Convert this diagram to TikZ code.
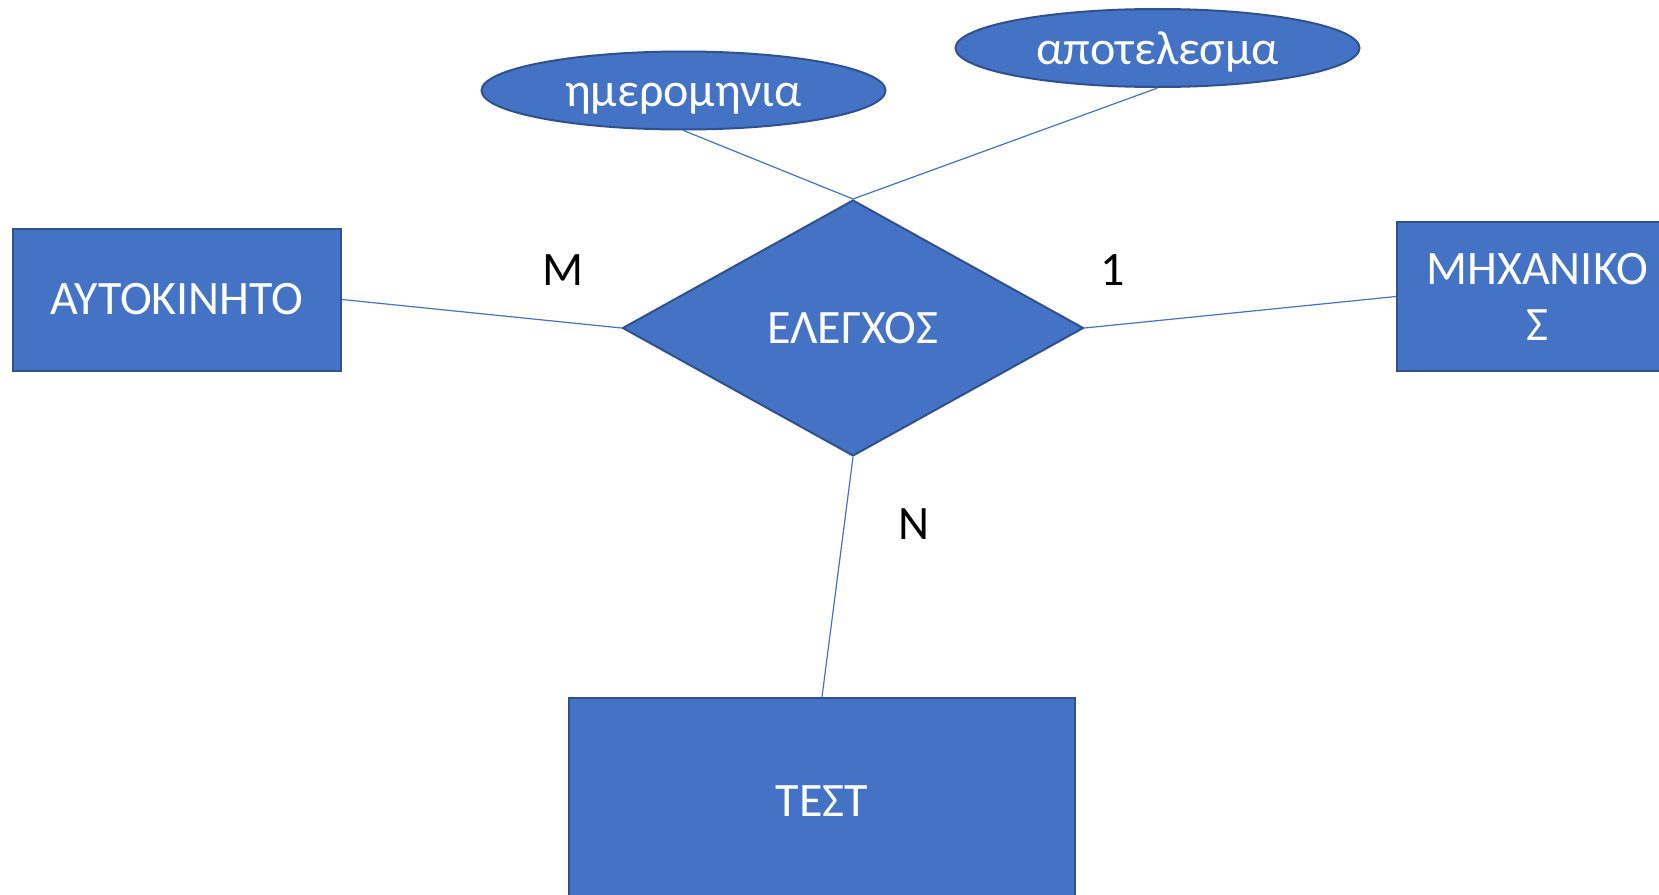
\documentclass[tikz,border=0pt]{standalone}
\usepackage{fontspec}
\setmainfont{Carlito}
\usetikzlibrary{shapes.geometric}
\definecolor{erfill}{HTML}{4472C4}
\definecolor{erborder}{HTML}{2F528F}
\tikzset{
  entity/.style={rectangle, fill=erfill, draw=erborder, line width=2pt,
    text=white, font=\fontsize{48}{56}\selectfont, inner sep=0pt, align=center},
  attrib/.style={ellipse, fill=erfill, draw=erborder, line width=2pt,
    text=white, font=\fontsize{48}{56}\selectfont, inner sep=0pt,
    text height=40pt, text depth=8pt,
    minimum width=404pt, minimum height=78pt},
  relation/.style={diamond, fill=erfill, draw=erborder, line width=2pt,
    text=white, font=\fontsize{48}{56}\selectfont, inner sep=0pt,
    minimum width=461pt, minimum height=256pt},
  link/.style={draw=erfill, line width=1.2pt},
  card/.style={text=black, font=\fontsize{48}{56}\selectfont, inner sep=0pt}
}
\begin{document}
\begin{tikzpicture}[x=1pt, y=-1pt]
  \useasboundingbox[fill=white] (0,0) rectangle (1659,894);

  % entities
  \node[entity, minimum width=328pt, minimum height=142pt] (car) at (177,299.5) {ΑΥΤΟΚΙΝΗΤΟ};
  \node[entity, minimum width=280pt, minimum height=149pt] (mech) at (1537,296.5) {ΜΗΧΑΝΙΚΟ\\Σ};
  \node[entity, minimum width=506pt, minimum height=206pt] (test) at (822,801) {ΤΕΣΤ};

  % relationship
  \node[relation] (check) at (853,328) {ΕΛΕΓΧΟΣ};

  % attributes of the relationship
  \node[attrib] (date) at (683.5,90.5) {ημερομηνια};
  \node[attrib] (result) at (1157.5,48) {αποτελεσμα};

  \draw[link] (car.east) -- (check.west);
  \draw[link] (check.east) -- (mech.west);
  \draw[link] (check.south) -- (test.north);
  \draw[link] (date.south) -- (check.north);
  \draw[link] (result.south) -- (check.north);

  % cardinalities
  \node[card] (cm) at (563,270) {Μ};
  \node[card] (c1) at (1113,270) {1};
  \node[card] (cn) at (914,524) {Ν};
\end{tikzpicture}
\end{document}
